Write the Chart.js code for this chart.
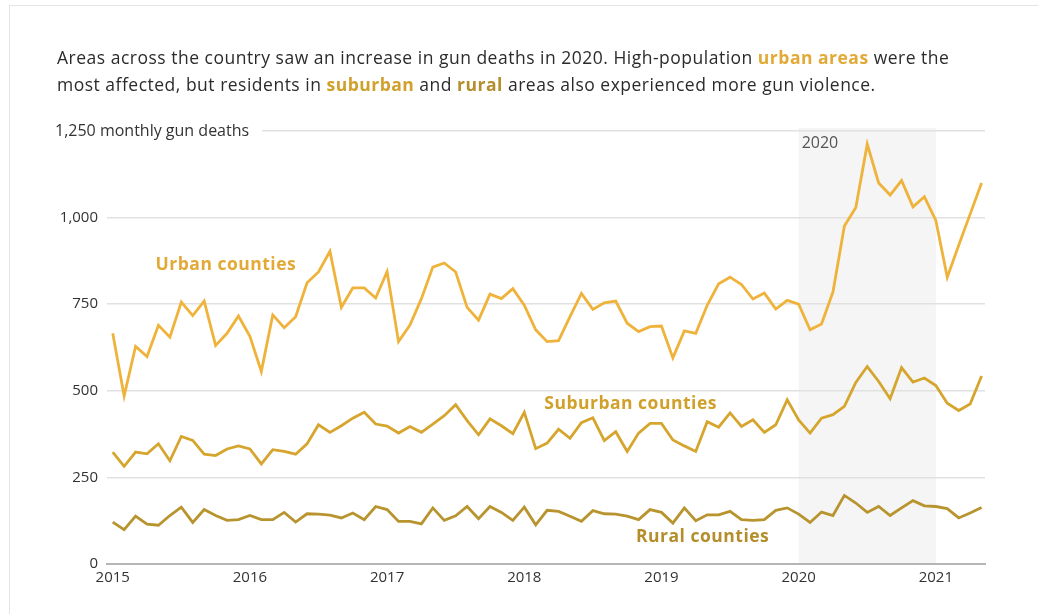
<!DOCTYPE html>
<html>
<head>
<meta charset="utf-8">
<script src="https://cdn.jsdelivr.net/npm/chart.js@4.4.1/dist/chart.umd.min.js"></script>
<style>
  html, body { margin: 0; padding: 0; background: #fff; }
  #wrap { position: relative; width: 1038px; height: 614px; overflow: hidden; }
  #frame { position: absolute; left: 9px; top: 5px; width: 1040px; height: 640px; border: 1px solid #e4e4e4; }
  #title {
    position: absolute; left: 57px; top: 44px; width: 980px; white-space: nowrap;
    font: 17.5px "Open Sans", "Liberation Sans", sans-serif; line-height: 27px; color: #2b2b2b;
    letter-spacing: 0.5px;
  }
  #title b { font-weight: 700; }
  #chart { position: absolute; left: 0; top: 0; }
</style>
</head>
<body>
<div id="wrap">
  <div id="frame"></div>
  <canvas id="chart" width="1038" height="614"></canvas>
  <div id="title">Areas across the country saw an increase in gun deaths in 2020. High-population <b style="color:#e3a936">urban areas</b> were the<br>most affected, but residents in <b style="color:#d1a02a">suburban</b> and <b style="color:#b38e2b">rural</b> areas also experienced more gun violence.</div>
</div>
<script>
// monthly gun deaths, Jan 2015 .. May 2021 (index 0 = Jan 2015)
var years = ["2015", "2016", "2017", "2018", "2019", "2020", "2021"];

var urban = [
  666, 485, 628, 599, 689, 655, 756, 717, 759, 631, 666, 716,
  657, 556, 719, 682, 714, 812, 843, 903, 741, 797, 797, 768,
  844, 642, 690, 766, 857, 869, 843, 741, 704, 779, 766, 795,
  747, 676, 642, 645, 714, 781, 735, 754, 759, 695, 671, 685,
  687, 595, 673, 666, 747, 809, 828, 807, 765, 782, 736, 761,
  750, 676, 693, 785, 976, 1029, 1212, 1100, 1065, 1107, 1031, 1060,
  992, 828, 920, 1010, 1100
];
var suburban = [
  323, 282, 323, 318, 347, 298, 368, 357, 317, 313, 332, 341,
  332, 289, 330, 325, 317, 347, 402, 380, 399, 421, 438, 404,
  398, 378, 397, 380, 404, 428, 460, 414, 373, 419, 399, 376,
  438, 333, 349, 389, 363, 408, 422, 356, 382, 325, 378, 406,
  406, 358, 341, 325, 411, 395, 436, 397, 416, 380, 402, 474,
  416, 378, 421, 431, 455, 524, 570, 527, 477, 567, 525, 537,
  515, 464, 443, 462, 543
];
var rural = [
  121, 99, 138, 115, 112, 140, 164, 120, 157, 140, 126, 128,
  140, 128, 128, 149, 121, 145, 144, 141, 133, 147, 128, 166,
  157, 123, 123, 116, 162, 126, 139, 166, 131, 166, 149, 126,
  164, 113, 155, 152, 138, 123, 154, 145, 144, 138, 128, 157,
  149, 118, 162, 125, 142, 142, 152, 128, 126, 128, 155, 162,
  144, 120, 150, 140, 198, 176, 149, 166, 140, 162, 183, 168,
  166, 160, 133, 147, 163
];

var yTicks = [0, 250, 500, 750, 1000, 1250];

var COL_URBAN = "#efb33b";
var COL_SUB = "#d6a52d";
var COL_RURAL = "#b8942e";

function pts(arr) {
  return arr.map(function (v, i) { return { x: i, y: v }; });
}

function fmt(v) {
  return v.toLocaleString("en-US");
}

var FONT = "'Open Sans', 'Liberation Sans', sans-serif";

// grey 2020 band + inline series labels + top axis label
var decor = {
  id: "decor",
  beforeDraw: function (chart) {
    var c = chart.ctx, a = chart.chartArea, x = chart.scales.x;
    var x0 = x.getPixelForValue(60), x1 = x.getPixelForValue(72);
    c.save();
    c.fillStyle = "#f5f5f5";
    c.fillRect(x0, a.top - 3, x1 - x0, a.bottom - a.top + 3);
    c.restore();
  },
  beforeDatasetsDraw: function (chart) {
    var c = chart.ctx, x = chart.scales.x, y = chart.scales.y;
    var yTop = y.getPixelForValue(1250);
    c.save();
    c.fillStyle = "#fff";
    c.fillRect(40, yTop - 9, 222, 18);
    c.fillStyle = "#333";
    c.font = "16px " + FONT;
    c.textBaseline = "middle";
    c.textAlign = "left";
    c.fillText("1,250 monthly gun deaths", 55, yTop);
    c.fillStyle = "#555";
    c.fillText("2020", x.getPixelForValue(60) + 3, yTop + 12);

    c.font = "bold 17.5px " + FONT;
    c.letterSpacing = "0.5px";
    c.textAlign = "center";
    c.fillStyle = "#e3a936";
    c.fillText("Urban counties", x.getPixelForValue(9.9), y.getPixelForValue(863));
    c.fillStyle = "#d1a02a";
    c.fillText("Suburban counties", x.getPixelForValue(45.3), y.getPixelForValue(462));
    c.fillStyle = "#b38e2b";
    c.fillText("Rural counties", x.getPixelForValue(51.6), y.getPixelForValue(79));
    c.restore();
  }
};

function line(label, data, color) {
  return {
    label: label,
    data: pts(data),
    borderColor: color,
    borderWidth: 2.8,
    pointRadius: 0,
    tension: 0,
    borderJoinStyle: "miter"
  };
}

new Chart(document.getElementById("chart"), {
  type: "line",
  data: {
    datasets: [
      line("Urban counties", urban, COL_URBAN),
      line("Suburban counties", suburban, COL_SUB),
      line("Rural counties", rural, COL_RURAL)
    ]
  },
  options: {
    responsive: false,
    animation: false,
    layout: { padding: { left: 0, right: 53, top: 131, bottom: 20 } },
    plugins: { legend: { display: false }, tooltip: { enabled: false } },
    scales: {
      x: {
        type: "linear",
        min: -0.5,
        max: 76.3,
        afterFit: function (s) { s.height = 30; },
        afterBuildTicks: function (s) {
          s.ticks = years.map(function (_, i) { return { value: i * 12 }; });
        },
        grid: { display: false, drawTicks: false },
        border: { display: true, color: "#b5b5b5", width: 2 },
        ticks: {
          padding: 5,
          maxRotation: 0,
          autoSkip: false,
          color: "#333",
          font: { family: FONT, size: 15 },
          callback: function (v) { return years[Math.round(v / 12)]; }
        }
      },
      y: {
        min: 0,
        max: 1250,
        afterFit: function (s) { s.width = 107; },
        afterBuildTicks: function (s) {
          s.ticks = yTicks.map(function (v) { return { value: v }; });
        },
        grid: {
          drawTicks: false,
          color: function (ctx) { return ctx.tick && ctx.tick.value === 0 ? "rgba(0,0,0,0)" : "#e1e1e1"; },
          lineWidth: 1.5
        },
        border: { display: false },
        ticks: {
          padding: 9,
          color: "#333",
          font: { family: FONT, size: 15 },
          callback: function (v) { return v === 1250 ? "" : fmt(v); }
        }
      }
    }
  },
  plugins: [decor]
});
</script>
</body>
</html>
